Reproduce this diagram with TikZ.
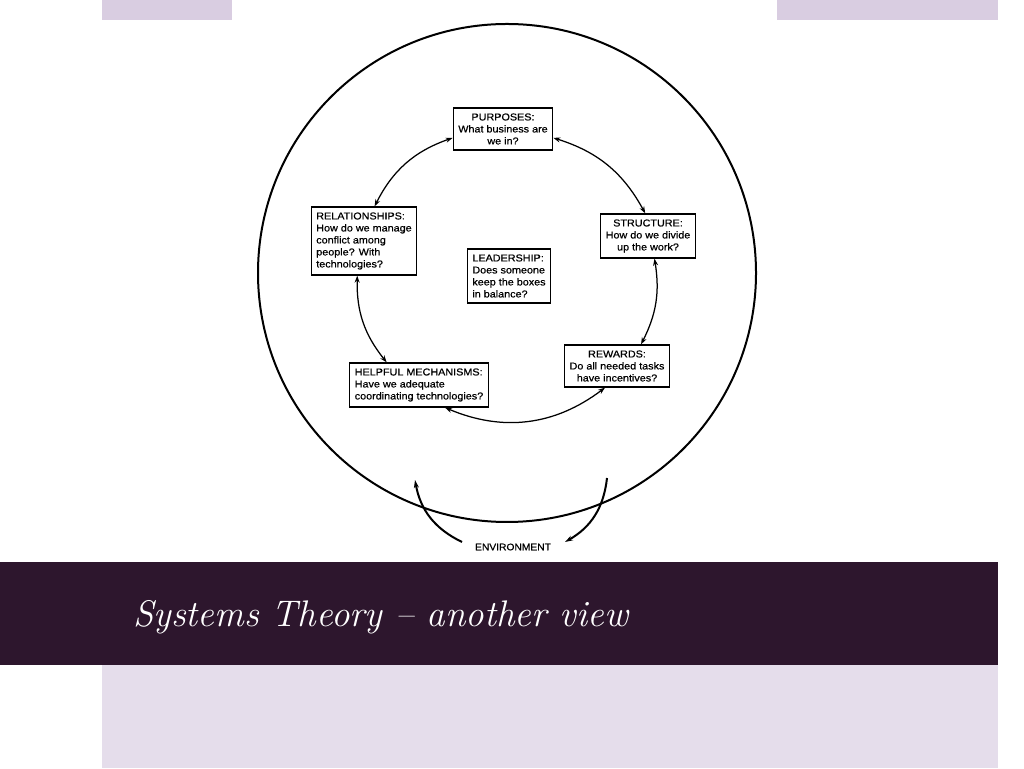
\documentclass[tikz,border=0pt]{standalone}
\usepackage{fontspec}
\newfontfamily\bfont[FakeStretch=1.08,FakeBold=0.6]{Liberation Sans}
\usetikzlibrary{arrows.meta}
\definecolor{band}{RGB}{45,22,45}
\definecolor{topbar}{RGB}{217,205,225}
\definecolor{botbar}{RGB}{229,221,235}
\tikzset{
  box/.style={draw, line width=1.2pt, fill=white, inner xsep=5pt, inner ysep=5.5pt,
    font=\bfont\fontsize{10}{12}\selectfont},
  cyc/.style={line width=1.25pt, {Stealth[length=7pt,width=5pt]}-{Stealth[length=7pt,width=5pt]}},
  env/.style={line width=2pt, -{Stealth[length=8pt,width=5pt]}}
}
\begin{document}
\begin{tikzpicture}[x=1pt,y=1pt]
\useasboundingbox (0,0) rectangle (1024,768);
% background panels
\fill[topbar] (102,748) rectangle (998,768);
\fill[white] (232,206) rectangle (777,768);
\fill[band] (0,103) rectangle (998,206);
\fill[botbar] (102,0) rectangle (998,103);
% title
\node[anchor=base west, text=white, font=\fontsize{37}{37}\selectfont\itshape, inner sep=0pt] (title) at (133,142) {Systems Theory -- another view};
% big circle
\node[circle, draw, line width=2pt, minimum size=498pt, inner sep=0pt] (C) at (507,495) {};
% boxes
\node[box, align=center] (P) at (503,639) {PURPOSES:\\What business are\\we in?};
\node[box, align=left] (R) at (364,527) {RELATIONSHIPS:\\How do we manage\\conflict among\\people? With\\technologies?};
\node[box, align=center] (S) at (648,532) {STRUCTURE:\\How do we divide\\up the work?};
\node[box, align=left] (L) at (509,492) {LEADERSHIP:\\Does someone\\keep the boxes\\in balance?};
\node[box, align=left] (H) at (419,383) {HELPFUL MECHANISMS:\\Have we adequate\\coordinating technologies?};
\node[box, align=center] (W) at (617,402) {REWARDS:\\Do all needed tasks\\have incentives?};
% cycle arrows
\draw[cyc] (P.190) to[bend right=22] (R.73);
\draw[cyc] (R.259) to[bend right=20] (H.145);
\draw[cyc] (H.319) to[bend right=30] (W.241);
\draw[cyc] (W.42) to[bend right=18] (S.286);
\draw[cyc] (S.97) to[bend right=22] (P.350);
% environment
\node[font=\bfont\fontsize{9.5}{10}\selectfont, inner sep=1pt] (E) at (513,221) {ENVIRONMENT};
\coordinate (e1s) at (462,226);
\coordinate (e1t) at (415,288);
\coordinate (e2s) at (607,290);
\coordinate (e2t) at (565,226);
\draw[env] (e1s) to[bend left=27] (e1t);
\draw[env] (e2s) to[bend left=27] (e2t);
\end{tikzpicture}
\end{document}
